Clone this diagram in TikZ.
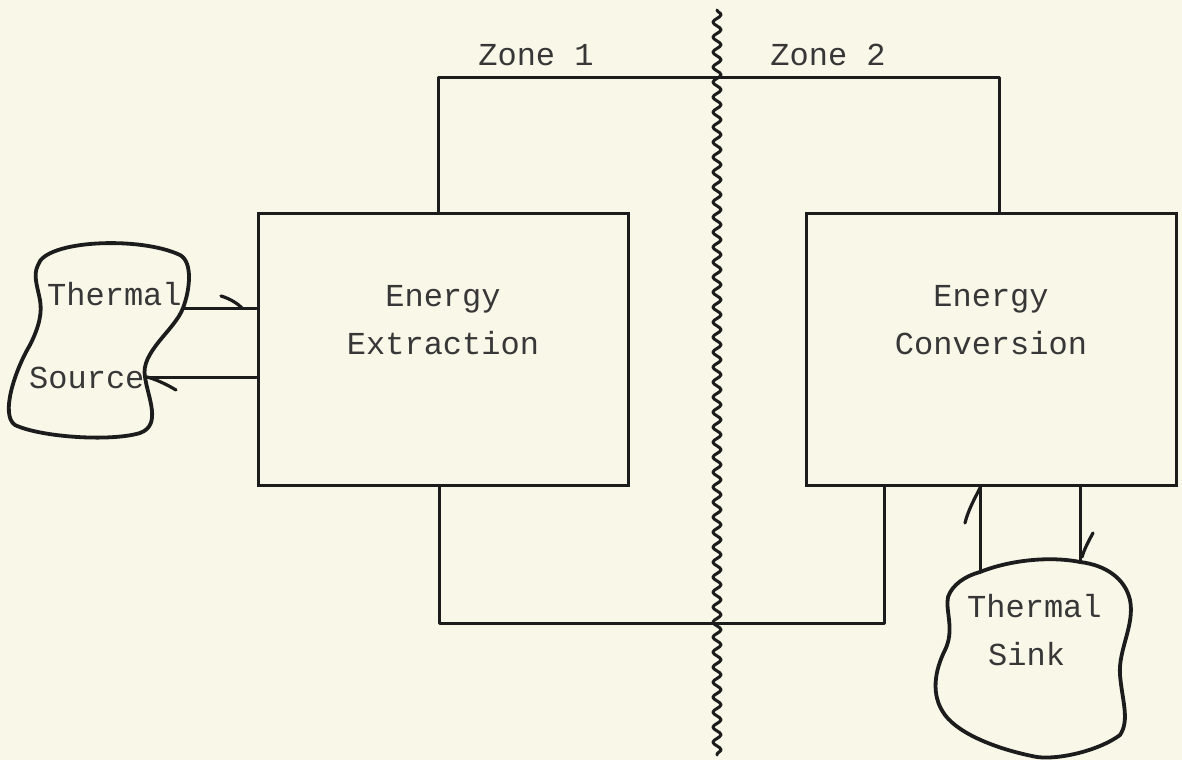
\documentclass[tikz,border=0pt]{standalone}
\usepackage{fontspec}
\setmonofont{Liberation Mono}
\usetikzlibrary{decorations.pathmorphing}
\definecolor{paper}{RGB}{249,247,232}
\definecolor{ink}{RGB}{28,28,28}
\definecolor{typeink}{RGB}{55,55,55}
\tikzset{
  wire/.style={draw=ink, line width=3pt, line cap=round, line join=round},
  blob/.style={draw=ink, line width=3.8pt, line cap=round, line join=round},
  barb/.style={draw=ink, line width=3.2pt, line cap=round},
  blockbox/.style={draw=ink, line width=3pt, minimum width=370pt, minimum height=272pt, inner sep=0pt},
  lbl/.style={text=typeink, font=\ttfamily\fontsize{32}{38}\selectfont, inner sep=0pt},
}
\begin{document}
\begin{tikzpicture}[x=1pt,y=-1pt]
\fill[paper] (0,0) rectangle (1182,760);
\useasboundingbox (0,0) rectangle (1182,760);

% blocks
\node[blockbox] (ext) at (443,349) {};
\node[blockbox] (conv) at (991,349) {};
\node[lbl, anchor=base] (ext1) at (443,306) {Energy};
\node[lbl, anchor=base] (ext2) at (443,354) {Extraction};
\node[lbl, anchor=base] (conv1) at (991,306) {Energy};
\node[lbl, anchor=base] (conv2) at (991,354) {Conversion};

% zone labels
\node[lbl, anchor=base] (z1) at (536,66) {Zone 1};
\node[lbl, anchor=base] (z2) at (828,66) {Zone 2};

% loop corners
\coordinate (tl) at (438,77);
\coordinate (tr) at (999,77);
\coordinate (bl) at (439,623);
\coordinate (br) at (884,623);
\draw[wire] (ext.north -| tl) -- (tl) -- (tr) -- (conv.north -| tr);
\draw[wire] (ext.south -| bl) -- (bl) -- (br) -- (conv.south -| br);

% wavy boundary
\coordinate (wtop) at (717,10);
\coordinate (wbot) at (717,755);
\draw[ink, line width=3pt, line join=round, line cap=round, decorate,
      decoration={snake, segment length=15pt, amplitude=4pt}] (wtop) -- (wbot);

% thermal source
\coordinate (s1) at (183,308);
\coordinate (s2) at (145,377);
\draw[blob] (38,265) .. controls (45,240) and (140,236) .. (180,255)
  .. controls (193,262) and (190,290) .. (s1)
  .. controls (175,330) and (140,352) .. (s2)
  .. controls (148,398) and (162,425) .. (140,433)
  .. controls (110,442) and (40,437) .. (15,425)
  .. controls (0,415) and (15,370) .. (30,345)
  .. controls (40,325) and (42,312) .. (40,300)
  .. controls (37,285) and (33,275) .. (38,265) -- cycle;
\node[lbl, anchor=base west] (srcT) at (47,305) {Thermal};
\node[lbl, anchor=base west] (srcS) at (29,388) {Source};
\draw[wire] (s1) -- (ext.west |- s1);
\draw[wire] (ext.west |- s2) -- (s2);
\draw[barb] (221,296) .. controls (231,299) and (238,304) .. (242,308);
\draw[barb] (176,390) .. controls (166,384) and (155,379) .. (147,377);

% thermal sink
\coordinate (k1) at (980,572);
\coordinate (k2) at (1080,562);
\draw[blob] (k1) .. controls (1010,560) and (1050,556) .. (k2)
  .. controls (1105,565) and (1125,578) .. (1130,600)
  .. controls (1135,625) and (1118,650) .. (1120,675)
  .. controls (1122,700) and (1130,720) .. (1120,735)
  .. controls (1100,750) and (1060,760) .. (1037,757)
  .. controls (1000,750) and (960,735) .. (945,715)
  .. controls (930,695) and (935,670) .. (945,650)
  .. controls (955,630) and (945,610) .. (948,597)
  .. controls (952,585) and (965,576) .. (k1) -- cycle;
\node[lbl, anchor=base west] (snkT) at (967,617) {Thermal};
\node[lbl, anchor=base west] (snkS) at (988,665) {Sink};
\draw[wire] (k1) -- (conv.south -| k1);
\draw[wire] (conv.south -| k2) -- (k2);
\draw[barb] (965,523) .. controls (968,510) and (976,496) .. (980,488);
\draw[barb] (1093,533) .. controls (1088,542) and (1084,550) .. (1082,557);
\end{tikzpicture}
\end{document}
